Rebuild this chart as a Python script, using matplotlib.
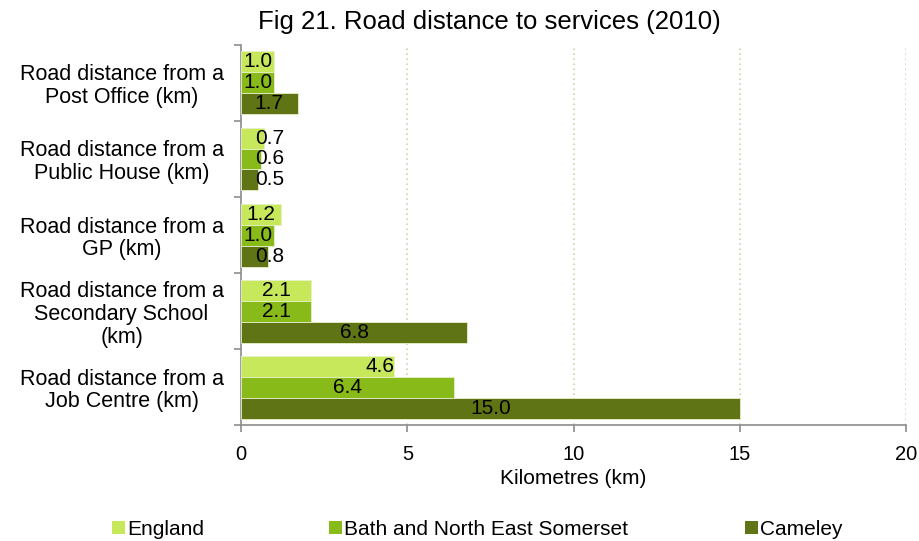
import matplotlib.pyplot as plt
from matplotlib.patches import Patch
import numpy as np

plt.rcParams['font.family'] = ['Liberation Sans', 'DejaVu Sans']

categories = [
    'Road distance from a\nPost Office (km)',
    'Road distance from a\nPublic House (km)',
    'Road distance from a\nGP (km)',
    'Road distance from a\nSecondary School\n(km)',
    'Road distance from a\nJob Centre (km)',
]
series_names = ['England', 'Bath and North East Somerset', 'Cameley']
england = [1.0, 0.7, 1.2, 2.1, 4.6]
banes = [1.0, 0.6, 1.0, 2.1, 6.4]
cameley = [1.7, 0.5, 0.8, 6.8, 15.0]
xticks = [0, 5, 10, 15, 20]

colors = ['#C8E85C', '#88BA1A', '#5F7414']
bar_h = 0.276

fig = plt.figure(figsize=(9.2, 5.41), dpi=100)
ax = fig.add_axes([0.262, 0.214, 0.723, 0.703])

y = np.arange(len(categories))
for i, (vals, c) in enumerate(zip([england, banes, cameley], colors)):
    pos = y + (i - 1) * bar_h
    ax.barh(pos, vals, height=bar_h, color=c, edgecolor='#E8F0C8',
            linewidth=0.6, zorder=3)
    for p, v in zip(pos, vals):
        # short bars: push the label out past the bar end
        if v < 1.0:
            xc = 0.87
        elif v == 4.6:
            xc = v - 0.42
        else:
            xc = v / 2
        ax.text(xc, p, f'{v:.1f}', ha='center', va='center',
                fontsize=15, color='#000000', zorder=4)

ax.set_xlim(0, 20)
ax.set_ylim(len(categories) - 0.5, -0.5)
ax.set_xticks(xticks)
ax.set_xticklabels([str(t) for t in xticks], fontsize=14.5)
ax.set_yticks(y)
ax.set_yticklabels(categories, fontsize=15.5, ha='center', linespacing=1.1)
ax.tick_params(axis='y', length=0, pad=86)
ax.set_yticks(np.arange(-0.5, len(categories)), minor=True)
ax.tick_params(axis='y', which='minor', length=5, color='#8C8C8C', width=1.2)
ax.tick_params(axis='x', length=5, color='#8C8C8C', width=1.2, pad=9)

ax.grid(axis='x', linestyle=(0, (1, 2)), color='#D6CFA8', linewidth=1.2, zorder=0)
for s in ['top', 'right']:
    ax.spines[s].set_visible(False)
for s in ['left', 'bottom']:
    ax.spines[s].set_color('#8C8C8C')
    ax.spines[s].set_linewidth(1.2)

ax.set_xlabel('Kilometres (km)', fontsize=15, labelpad=4)
fig.text(0.532, 0.96, 'Fig 21. Road distance to services (2010)',
         ha='center', va='center', fontsize=18.5)

# one legend per entry to keep the uneven spacing
legend_x = [0.122, 0.358, 0.81]
for name, c, lx in zip(series_names, colors, legend_x):
    fig.legend(handles=[Patch(facecolor=c, edgecolor='none', label=name)],
               loc='center left', bbox_to_anchor=(lx, 0.022), frameon=False,
               fontsize=15, handlelength=0.6, handleheight=0.6,
               handletextpad=0.1, borderpad=0, borderaxespad=0)

fig.savefig('out.png', dpi=100)
